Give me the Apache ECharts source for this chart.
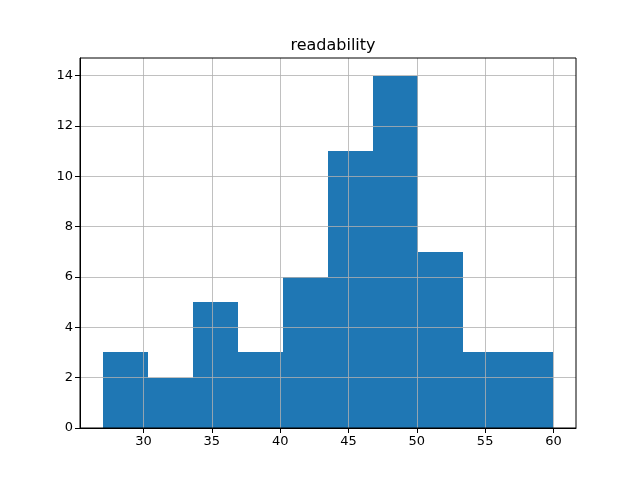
<!DOCTYPE html>
<html>
<head>
<meta charset="utf-8">
<script src="https://cdn.jsdelivr.net/npm/echarts@6/dist/echarts.min.js"></script>
<style>
  html, body { margin: 0; padding: 0; background: #fff; }
  #chart { width: 640px; height: 480px; }
</style>
</head>
<body>
<div id="chart"></div>
<script>
// histogram bins (left/right edges) and counts
var binLeft  = [27.0, 30.3, 33.6, 36.9, 40.2, 43.5, 46.8, 50.1, 53.4, 56.7];
var binRight = [30.3, 33.6, 36.9, 40.2, 43.5, 46.8, 50.1, 53.4, 56.7, 60.0];
var counts   = [3, 2, 5, 3, 6, 11, 14, 7, 3, 3];
var xTicks = [30, 35, 40, 45, 50, 55, 60];
var yTicks = [0, 2, 4, 6, 8, 10, 12, 14];

var chart = echarts.init(document.getElementById('chart'));

var data = [];
for (var i = 0; i < counts.length; i++) {
    data.push([binLeft[i], binRight[i], counts[i]]);
}

var font = 'DejaVu Sans';

option = {
    backgroundColor: '#fff',
    animation: false,
    title: {
        text: 'readability',
        left: 328,
        top: 33,
        textAlign: 'center',
        textStyle: { fontFamily: font, fontSize: 16, fontWeight: 'normal', color: '#000' }
    },
    grid: {
        left: 80, right: 64, top: 58, bottom: 52,
        show: true, borderColor: '#000', borderWidth: 1, backgroundColor: 'transparent', z: 4
    },
    xAxis: {
        type: 'value',
        min: 25.35,
        max: 61.65,
        z: 3,
        axisLine: { show: true, lineStyle: { color: '#000', width: 1 } },
        axisTick: { show: true, length: 5, inside: false, customValues: xTicks, lineStyle: { color: '#000' } },
        axisLabel: { customValues: xTicks, color: '#000', fontFamily: font, fontSize: 13, margin: 7 },
        splitLine: { show: true, lineStyle: { color: '#b0b0b0', width: 0.8 } }
    },
    yAxis: {
        type: 'value',
        min: 0,
        max: 14.7,
        z: 3,
        axisLine: { show: true, lineStyle: { color: '#000', width: 1 } },
        axisTick: { show: true, length: 5, inside: false, customValues: yTicks, lineStyle: { color: '#000' } },
        axisLabel: { customValues: yTicks, color: '#000', fontFamily: font, fontSize: 13, margin: 7 },
        splitLine: { show: true, lineStyle: { color: '#b0b0b0', width: 0.8 } }
    },
    series: [{
        type: 'custom',
        z: 2,
        renderItem: function (params, api) {
            var p0 = api.coord([api.value(0), api.value(2)]);
            var p1 = api.coord([api.value(1), 0]);
            // snap to whole pixels so neighbouring bars meet without a seam
            var x0 = Math.round(p0[0]), x1 = Math.round(p1[0]);
            var y0 = Math.round(p0[1]), y1 = Math.round(p1[1]);
            return {
                type: 'rect',
                shape: { x: x0, y: y0, width: x1 - x0, height: y1 - y0 },
                style: { fill: '#1f77b4' }
            };
        },
        encode: { x: [0, 1], y: 2 },
        data: data
    }]
};

chart.setOption(option);
</script>
</body>
</html>
